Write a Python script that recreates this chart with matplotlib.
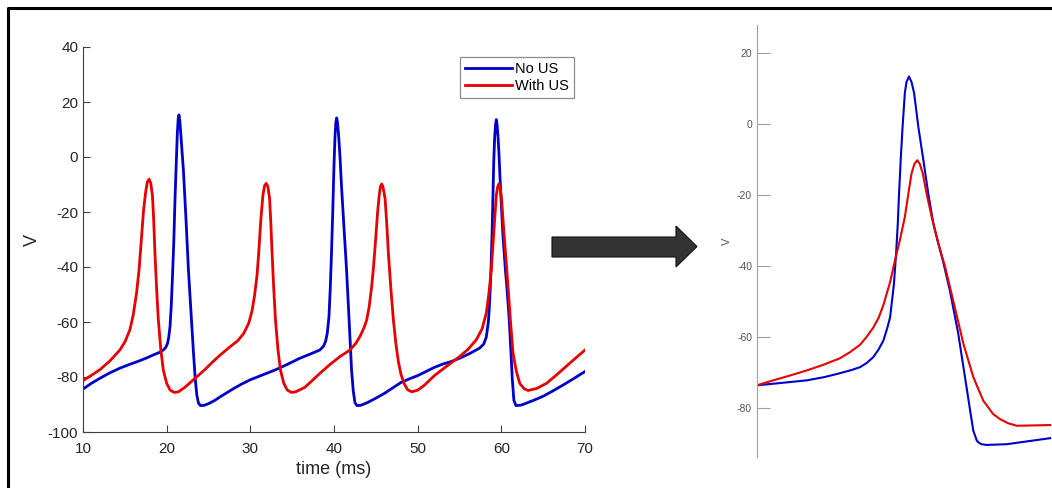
import numpy as np
import matplotlib.pyplot as plt
import matplotlib.patches as mpatches

plt.rcParams['font.family'] = ['Liberation Sans', 'DejaVu Sans']
plt.rcParams['axes.unicode_minus'] = False

# left panel: membrane voltage, full trace (time in ms, V in mV)
t_no_us = [10.0, 11.0, 12.0, 13.2, 14.4, 15.5, 16.5, 17.5, 18.4, 19.1, 19.6, 19.9, 20.1, 20.25,
           20.4, 20.55, 20.7, 20.85, 21.0, 21.15, 21.28, 21.38, 21.47, 21.56, 21.7, 21.85, 22.0,
           22.3, 22.6, 22.9, 23.2, 23.4, 23.6, 23.8, 24.05, 24.5, 25.0, 25.7, 26.4, 27.2, 28.0,
           29.0, 30.0, 31.5, 33.0, 34.5, 35.9, 37.2, 38.3, 38.75, 39.0, 39.2, 39.4, 39.55, 39.7,
           39.85, 40.0, 40.12, 40.22, 40.32, 40.42, 40.55, 40.7, 40.9, 41.2, 41.5, 41.8, 42.1,
           42.3, 42.5, 42.75, 43.2, 44.0, 45.0, 46.0, 47.0, 48.0, 49.0, 50.0, 51.0, 52.0, 53.0,
           54.0, 55.0, 56.2, 57.4, 57.9, 58.2, 58.45, 58.6, 58.75, 58.9, 59.0, 59.09, 59.2, 59.3,
           59.4, 59.5, 59.6, 59.72, 59.85, 60.0, 60.16, 60.46, 60.68, 60.94, 61.15, 61.31, 61.5,
           61.75, 62.4, 63.0, 64.0, 65.0, 66.2, 67.5, 68.8, 70.0]
v_no_us = [-84.4, -82.3, -80.5, -78.5, -76.8, -75.5, -74.4, -73.2, -72.0, -71.1, -70.2, -69.2, -67.8, -65.5,
           -61.7, -54, -43, -31, -15, -2, 9, 14, 15.3, 13.5, 8, 1.5, -4.7,
           -22, -41, -56, -71, -80, -86.5, -89.5, -90.4, -90.3, -89.7, -88.6, -87.2, -85.7, -84.2,
           -82.5, -81.0, -79.2, -77.4, -75.3, -73.2, -71.6, -70.2, -68.8, -67, -64, -58, -48, -35,
           -20, -3, 7.4, 12.5, 14.2, 12.5, 8, 1, -10.8, -26, -41, -59, -77.5,
           -85, -89.3, -90.4, -90.3, -89.3, -87.7, -86, -84, -82, -80.7, -79.5, -78, -76.5, -75.3,
           -74.4, -73.2, -71.5, -69.5, -68, -65.5, -60, -53, -42, -27, -14, -2, 7, 11.5,
           13.6, 11.5, 7.5, 1, -8, -17, -27, -40, -48, -59, -71, -80.7, -88.5,
           -90.4, -90.2, -89.5, -88.3, -87, -85, -82.7, -80.3, -78]

t_with_us = [10.0, 11.0, 12.0, 13.2, 14.4, 15.0, 15.6, 16.0, 16.4, 16.7, 17.0, 17.25, 17.5, 17.7, 17.9,
             18.1, 18.3, 18.45, 18.6, 18.8, 19.0, 19.3, 19.6, 20.0, 20.4, 20.9, 21.4, 22.2, 23.2,
             24.5, 25.5, 26.4, 27.5, 28.5, 29.2, 29.8, 30.2, 30.5, 30.8, 31.0, 31.25, 31.5, 31.7,
             31.9, 32.1, 32.3, 32.45, 32.6, 32.8, 33.0, 33.3, 33.6, 34.0, 34.4, 34.9, 35.4, 36.5,
             37.5, 38.3, 39.5, 40.7, 41.9, 42.6, 43.1, 43.6, 43.9, 44.2, 44.5, 44.75, 45.0, 45.2,
             45.4, 45.55, 45.7, 45.85, 46.1, 46.3, 46.5, 46.8, 47.1, 47.4, 47.7, 48.0, 48.4, 48.8,
             49.3, 50.0, 50.8, 52.0, 53.5, 55.0, 56.0, 57.0, 57.7, 58.2, 58.5, 58.8, 59.0, 59.2,
             59.4, 59.55, 59.7, 59.85, 60.05, 60.2, 60.5, 60.8, 61.1, 61.4, 61.8, 62.2, 62.7, 63.2,
             64.2, 65.4, 66.5, 67.8, 69.0, 70.0]
v_with_us = [-81.3, -79.4, -77.4, -74.2, -70.2, -67.3, -62.9, -57.5, -49.5, -41, -29, -19, -12.5, -9, -8.1,
             -9.5, -14, -23, -35, -48, -59, -70, -77.5, -82.3, -84.7, -85.6, -85.4, -83.7, -81,
             -77.5, -74.5, -72, -69.2, -66.8, -64.2, -60.5, -56, -50.5, -43, -35, -23, -14, -10.5,
             -9.6, -10.8, -15, -24, -35, -48, -59, -70, -77.5, -82.3, -84.7, -85.6, -85.4, -83.8,
             -81, -78.7, -75.5, -72.6, -70.2, -67.8, -65.3, -62, -59.3, -54.5, -47.2, -39, -29, -20.5,
             -14, -10.8, -9.8, -10.8, -15, -24, -35, -48, -59.3, -68, -74.5, -79, -82.5, -84.6,
             -85.4, -84.8, -83, -79.5, -76, -72.6, -70, -66.5, -62.5, -56.8, -50, -41, -32, -22.9,
             -14, -11, -9.8, -11, -16, -22.9, -35, -47.2, -60, -71.4, -78, -82.3, -84.2, -84.9,
             -84.2, -82.3, -79.5, -76, -72.8, -70.2]

# right panel: zoom on the last spike
tz_no_us = [54.65, 55.45, 56.21, 56.75, 57.24, 57.6, 57.87, 58.08, 58.28, 58.45, 58.60, 58.72,
            58.81, 58.93, 59.0, 59.05, 59.09, 59.14, 59.20, 59.27, 59.32, 59.40, 59.48, 59.56,
            59.69, 59.85, 60.00, 60.16, 60.31, 60.46, 60.68, 60.94, 61.15, 61.31, 61.41, 61.52,
            61.6, 61.67, 61.83, 62.45, 63.81]
vz_no_us = [-73.6, -72.9, -72.2, -71.3, -70.2, -69.3, -68.5, -67.3, -65.7, -63.5, -61, -57.5,
            -54.4, -45, -36, -28, -19.5, -10.2, -0.7, 8.7, 11.8, 13.4, 11.8, 8.7,
            -0.7, -10.2, -19.5, -28, -33.5, -38.5, -47, -59.1, -71.3, -80.7, -86.4, -89.2,
            -89.9, -90.2, -90.4, -90.2, -88.5]
tz_with_us = [54.65, 55.16, 55.7, 56.21, 56.7, 57.24, 57.55, 57.87, 58.08, 58.28, 58.45, 58.60,
              58.81, 58.96, 59.12, 59.27, 59.38, 59.48, 59.57, 59.66, 59.74, 59.83, 59.95, 60.11,
              60.32, 60.53, 60.78, 61.10, 61.41, 61.72, 62.03, 62.24, 62.5, 62.77, 63.81]
vz_with_us = [-73.6, -72.2, -70.8, -69.4, -67.9, -66.0, -64.3, -62.2, -59.9, -57.4, -54.6, -51.0,
              -44.5, -38.5, -32.5, -26.2, -19.6, -13.9, -11.2, -10.2, -11.3, -13.9, -19.6, -26.2,
              -33.7, -40.3, -49.7, -61.9, -71.3, -77.9, -81.7, -83.1, -84.3, -85, -84.8]

BLUE = '#0000c8'
RED = '#e60000'
GREY = '#404040'

fig = plt.figure(figsize=(10.52, 4.88), dpi=100)

# ---- left axes
ax = fig.add_axes([83/1052, 1-432/488, 502/1052, 385/488])
ax.plot(t_no_us, v_no_us, color=BLUE, lw=2.0, label='No US', solid_joinstyle='round')
ax.plot(t_with_us, v_with_us, color=RED, lw=2.0, label='With US', solid_joinstyle='round')
ax.set_xlim(10, 70)
ax.set_ylim(-100, 40)
ax.set_xticks(np.arange(10, 71, 10))
ax.set_yticks(np.arange(-100, 41, 20))
for s in ['top', 'right']:
    ax.spines[s].set_visible(False)
for s in ['left', 'bottom']:
    ax.spines[s].set_color(GREY)
    ax.spines[s].set_linewidth(0.8)
ax.tick_params(direction='in', length=5, color=GREY, labelcolor='#262626', labelsize=11)
ax.tick_params(axis='x', pad=7)
ax.set_xlabel('time (ms)', fontsize=13, color='#262626', labelpad=4)
ax.set_ylabel('V', fontsize=13, color='#262626', labelpad=5)
leg = ax.legend(loc='upper right', bbox_to_anchor=(0.978, 0.974), borderaxespad=0,
                fancybox=False, edgecolor='#707070', fontsize=10.5, handlelength=3.2,
                handletextpad=0.2, borderpad=0.35, labelspacing=0.2)
leg.get_frame().set_linewidth(0.9)

# ---- right axes (zoom)
az = fig.add_axes([757/1052, 1-457/488, 295/1052, 432/488])
az.plot(tz_no_us, vz_no_us, color=BLUE, lw=1.5, solid_joinstyle='round')
az.plot(tz_with_us, vz_with_us, color=RED, lw=1.5, solid_joinstyle='round')
az.set_xlim(54.65, 54.65 + 295/32)
az.set_ylim(-93.8, 27.9)
az.set_yticks(np.arange(-80, 21, 20))
az.set_xticks([])
for s in ['top', 'right', 'bottom']:
    az.spines[s].set_visible(False)
az.spines['left'].set_color('#a0a0a0')
az.spines['left'].set_linewidth(0.8)
az.tick_params(axis='y', direction='in', length=9, color='#a0a0a0', labelcolor='#555555', labelsize=7.5)
az.set_ylabel('V', fontsize=8, color='#555555', labelpad=4)

# ---- overlay: border and arrow in pixel coordinates
ov = fig.add_axes([0, 0, 1, 1], facecolor='none')
ov.set_xlim(0, 1052)
ov.set_ylim(488, 0)
ov.axis('off')
ov.plot([8, 8, 1060], [500, 8, 8], color='black', lw=2.2, clip_on=False)
arrow = mpatches.Polygon([[552, 237], [676, 237], [676, 226], [697, 246.5], [676, 267],
                          [676, 257], [552, 257]], closed=True, facecolor='#333333',
                         edgecolor='#111111', lw=0.8)
ov.add_patch(arrow)

fig.savefig('out.png', dpi=100)
